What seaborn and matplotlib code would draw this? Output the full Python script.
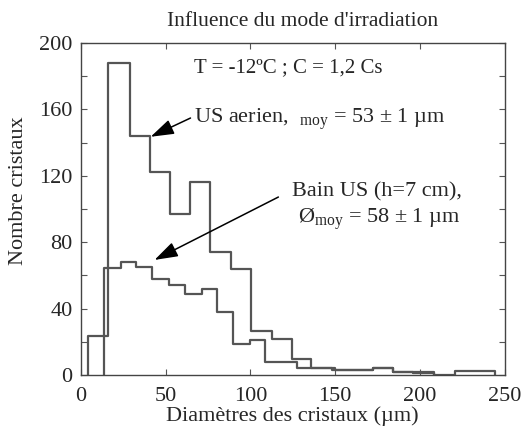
import numpy as np
import pandas as pd
import matplotlib.pyplot as plt
from matplotlib.ticker import MultipleLocator
import seaborn as sns

sns.set_style("ticks")
plt.rcParams['font.family'] = ['Liberation Serif', 'DejaVu Serif']
plt.rcParams['mathtext.fontset'] = 'custom'
plt.rcParams['mathtext.rm'] = 'Liberation Serif'

# US aerien : bin edges (µm) and counts
aerien_edges = [4.1, 16.3, 28.8, 40.6, 52.9, 64.3, 76.0, 88.8, 100.4, 112.8,
                124.5, 136.0, 148.0, 160.0, 172.0, 184.0, 196.0, 208.0]
aerien_counts = [23.5, 188, 144, 122, 97, 116, 74, 64, 26.5, 21.5,
                 9.5, 4, 3, 3, 4, 2, 1]

# Bain US (h=7 cm) : bin edges (µm) and counts
bain_edges = [13.7, 23.5, 32.4, 42.2, 51.9, 61.4, 71.2, 80.4, 89.8, 99.6,
              108.8, 127.5, 150.0, 172.0, 184.0, 200.0, 208.0, 220.6, 244.0]
bain_counts = [64.6, 68, 65, 58, 54, 49, 52, 38, 18.5, 21,
               8, 4, 3, 4, 2, 2, 0, 2.5]


def steps(edges, counts, name):
    x = [edges[0]] + list(edges)
    y = [0] + list(counts) + [0]
    return pd.DataFrame({"x": x, "y": y, "serie": name})


df = pd.concat([steps(aerien_edges, aerien_counts, "aerien"),
                steps(bain_edges, bain_counts, "bain")])

fs = 16
fig = plt.figure(figsize=(5.21, 4.30), dpi=100)
ax = fig.add_axes([0.155, 0.128, 0.814, 0.772])

for name, d in df.groupby("serie"):
    sns.lineplot(data=d, x="x", y="y", ax=ax, sort=False, estimator=None,
                 drawstyle="steps-post", color="#555555", lw=1.6)

ax.set_xlim(0, 250)
ax.set_ylim(0, 200)
ax.xaxis.set_major_locator(MultipleLocator(50))
ax.yaxis.set_major_locator(MultipleLocator(40))
ax.yaxis.set_minor_locator(MultipleLocator(20))
ax.tick_params(which="both", direction="in", top=True, right=True,
               length=4, width=0.8, labelsize=fs, color="#555555")
ax.tick_params(axis="x", pad=9)
ax.tick_params(axis="y", pad=6)
for s in ax.spines.values():
    s.set_color("#444444")
    s.set_linewidth(1.0)

ax.set_xlabel("Diamètres des cristaux (µm)", fontsize=fs, labelpad=0)
ax.set_ylabel("Nombre cristaux", fontsize=fs)
ax.yaxis.set_label_coords(-0.125, 0.554)
ax.set_title("Influence du mode d'irradiation", fontsize=15.5, x=0.524, pad=12)

arrow = dict(arrowstyle="-|>,head_length=0.55,head_width=0.18",
             color="black", lw=1.1, mutation_scale=26, shrinkA=0, shrinkB=0)

ax.text(66.5, 182.3, "T = -12ºC ; C = 1,2 Cs", fontsize=15, va="baseline")
ax.text(66.5, 151.6, r"US aerien,  $_{\mathrm{moy}}$ = 53 ± 1 µm",
        fontsize=fs, va="baseline")
ax.annotate("", xy=(41.2, 143.5), xytext=(64.7, 154.8), arrowprops=arrow)
ax.text(124.5, 107.8, "Bain US (h=7 cm),", fontsize=fs, va="baseline")
ax.text(176, 91.4, r"Ø$_{\mathrm{moy}}$ = 58 ± 1 µm", fontsize=fs,
        va="baseline", ha="center")
ax.annotate("", xy=(43.5, 69.3), xytext=(116.5, 107.2), arrowprops=arrow)

fig.savefig("out.png", dpi=100)
